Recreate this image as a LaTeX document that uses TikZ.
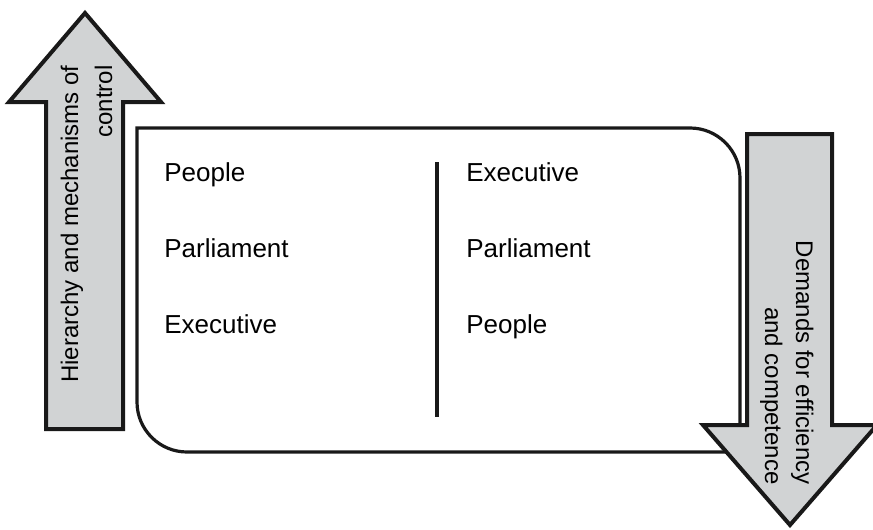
\documentclass[tikz,border=0pt]{standalone}
\usepackage{fontspec}
\setmainfont{Liberation Sans}
\definecolor{arrowgray}{RGB}{209,211,212}
\begin{document}
\begin{tikzpicture}[x=0.5pt, y=-0.5pt, font=\fontsize{13}{15}\selectfont, line join=miter,
  bigarrow/.style={draw=black!90, line width=2pt, fill=arrowgray},
  arrowtext/.style={font=\fontsize{12}{14}\selectfont, inner sep=0pt},
  itemtext/.style={anchor=base west, inner sep=0pt}]
 \useasboundingbox (0,0) rectangle (873,530);
 % frame with two rounded corners
 \draw[line width=1.6pt, black!90] (137,128) -- (690,128) arc(-90:0:50) -- (740,452) -- (187,452) arc(90:180:50) -- cycle;
 \draw[line width=1.7pt, black!90] (437,162) -- (437,417);
 \foreach \t/\y [count=\i] in {People/181, Parliament/257, Executive/333}
   \node[itemtext] (left\i) at (164,\y) {\t};
 \foreach \t/\y [count=\i] in {Executive/181, Parliament/257, People/333}
   \node[itemtext] (right\i) at (466,\y) {\t};
 % arrows
 \draw[bigarrow] (46,429) -- (46,102) -- (9,102) -- (85,13) -- (161,102) -- (123,102) -- (123,429) -- cycle;
 \draw[bigarrow] (747,134) -- (832,134) -- (832,425) -- (877,425) -- (790,525) -- (703,425) -- (747,425) -- cycle;
 \node[arrowtext, rotate=90, anchor=base east] (up1) at (78,65) {Hierarchy and mechanisms of};
 \node[arrowtext, rotate=90, anchor=base east] (up2) at (112,65) {control};
 \node[arrowtext, rotate=-90, anchor=base east] (down1) at (796,485) {Demands for efficiency};
 \node[arrowtext, rotate=-90, anchor=base east] (down2) at (765,485) {and competence};
\end{tikzpicture}
\end{document}
